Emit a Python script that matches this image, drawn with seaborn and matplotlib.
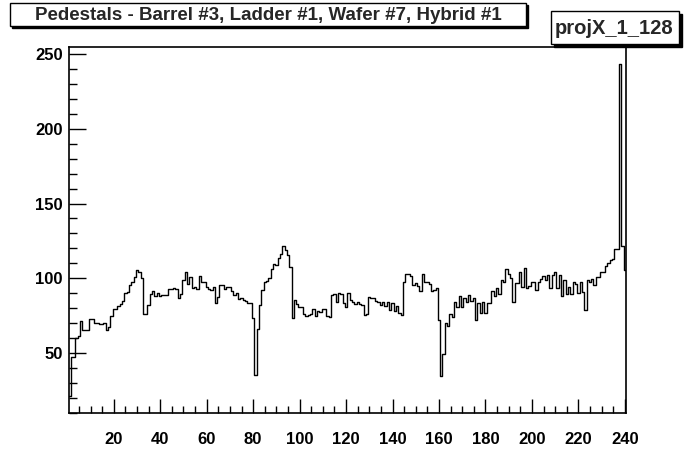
import numpy as np
import pandas as pd
import seaborn as sns
import matplotlib
matplotlib.use("Agg")
import matplotlib.pyplot as plt
from matplotlib.patches import Rectangle
from matplotlib.ticker import MultipleLocator

# ---------------- data ----------------
strip_lo = 0.5
strip_hi = 240.5
strips = list(range(1, 241))

pedestal_1_40 = [21, 47.3, 47.3, 60, 61.3, 71.3, 65.1, 65.7, 65.7, 73,
                 72.8, 70.2, 70.2, 69.5, 69.5, 70.2, 65.7, 67.3, 75, 79.5,
                 79.5, 81.7, 82.8, 84.6, 90, 90.5, 95.5, 97.3, 100.6, 105.5,
                 104.4, 100, 76, 76, 82.2, 89.5, 91.7, 88.4, 90, 88.4]
pedestal_41_80 = [88.8, 88.8, 88.8, 92.6, 92.6, 93.5, 92.6, 86.6, 89.5, 98.8,
                  104, 96.2, 100.6, 93.3, 94, 92.8, 101.3, 97.5, 97.5, 94,
                  92.8, 92.4, 94, 83.5, 87.3, 95.3, 95.3, 92.6, 94, 94,
                  91.3, 88.6, 90, 86.2, 86.6, 85.7, 85, 83.5, 83.5, 73.3]
pedestal_81_120 = [35, 65.9, 82, 92.5, 97.3, 98.4, 100.3, 106.2, 109.5, 109,
                   113.4, 116.4, 121.9, 119, 115.5, 107.3, 73.3, 85.8, 82.8, 80.8,
                   80.8, 76.2, 75, 75.2, 76.2, 79.4, 75, 77.8, 77.6, 79.6,
                   79.2, 74.6, 74, 88.8, 89.5, 84, 90, 89.5, 83.5, 80.6]
pedestal_121_160 = [89.9, 85.7, 84.4, 82.8, 84.4, 82.8, 82.1, 75.5, 76.1, 87.2,
                    86.8, 86.6, 85, 84.4, 82.1, 83.9, 81.7, 83.9, 78.8, 83.2,
                    78.4, 81.7, 76.8, 75.5, 97.7, 102.6, 103, 101.7, 95.5, 96.6,
                    94.6, 91.7, 102.6, 97.7, 97.7, 96.1, 91.2, 92.5, 93.2, 72.1]
pedestal_161_200 = [34.6, 49.4, 70, 68.4, 76, 74, 84, 80.5, 88, 80.5,
                    86.6, 84, 88.5, 85, 86.7, 72.2, 83.3, 76.6, 84.1, 76.6,
                    83.5, 83.3, 91.4, 88.3, 93.2, 89.7, 98.9, 97.8, 106.4, 102.8,
                    100.5, 84.1, 96.6, 96.6, 104.3, 94, 107.2, 93.5, 95, 97.7]
pedestal_201_240 = [97.2, 92.4, 97.2, 99.5, 101.2, 99, 102, 93.2, 102, 103.9,
                    93.2, 102.4, 88.4, 99, 89.5, 93.9, 89.5, 97.2, 96.1, 90.1,
                    97.2, 90.6, 79, 99, 97.2, 99.5, 95.5, 100.6, 100.6, 103.9,
                    104, 108, 110, 112.5, 112.8, 119.7, 119.7, 243.6, 121.4, 105.4]

pedestals = (pedestal_1_40 + pedestal_41_80 + pedestal_81_120 +
             pedestal_121_160 + pedestal_161_200 + pedestal_201_240)

x_tick_values = [20, 40, 60, 80, 100, 120, 140, 160, 180, 200, 220, 240]
y_tick_values = [50, 100, 150, 200, 250]
title_text = "Pedestals - Barrel #3, Ladder #1, Wafer #7, Hybrid #1"
hist_name = "projX_1_128"

# ---------------- figure ----------------
sns.set_style("white")
plt.rcParams['font.family'] = ['Liberation Sans', 'DejaVu Sans']

W, H = 696, 474
fig = plt.figure(figsize=(W / 100, H / 100), dpi=100)
fig.patch.set_facecolor("white")


def fx(px):
    return px / W


def fy(py):
    return 1 - py / H


L, R, T, B = 68.5, 626, 47, 413
ax = fig.add_axes([fx(L), fy(B), fx(R) - fx(L), fy(T) - fy(B)])

df = pd.DataFrame({"strip": strips, "pedestal": pedestals})
sns.histplot(data=df, x="strip", weights="pedestal", bins=240,
             binrange=(strip_lo, strip_hi), element="step", fill=False,
             color="black", linewidth=1.0, ax=ax)

ax.set_xlim(strip_lo, strip_hi)
ax.set_ylim(9.9, 254.7)
ax.set_xlabel("")
ax.set_ylabel("")
ax.set_xticks(x_tick_values)
ax.set_yticks(y_tick_values)
ax.xaxis.set_minor_locator(MultipleLocator(5))
ax.yaxis.set_minor_locator(MultipleLocator(10))
ax.tick_params(which="both", direction="in", top=False, right=False,
               bottom=True, left=True, colors="black", width=1.0)
ax.tick_params(axis="x", which="major", length=10, pad=14, labelsize=12)
ax.tick_params(axis="x", which="minor", length=5)
ax.tick_params(axis="y", which="major", length=12, pad=4, labelsize=12)
ax.tick_params(axis="y", which="minor", length=6)
for lab in ax.get_xticklabels() + ax.get_yticklabels():
    lab.set_fontweight("bold")
for sp in ax.spines.values():
    sp.set_visible(True)
    sp.set_color("black")
    sp.set_linewidth(1.2)


def box(x0, y0, x1, y1, shadow=3):
    fig.patches.append(Rectangle((fx(x0 + shadow), fy(y1 + shadow)),
                                 fx(x1) - fx(x0), fy(y0) - fy(y1),
                                 transform=fig.transFigure, facecolor="black",
                                 edgecolor="black", zorder=5))
    fig.patches.append(Rectangle((fx(x0), fy(y1)),
                                 fx(x1) - fx(x0), fy(y0) - fy(y1),
                                 transform=fig.transFigure, facecolor="white",
                                 edgecolor="black", linewidth=1.0, zorder=6))


box(10, 3, 526, 26, shadow=2)
fig.text(fx(268), fy(15), title_text, ha="center", va="center",
         fontsize=13.5, fontweight="bold", zorder=7)

box(551, 11, 679, 44, shadow=3)
fig.text(fx(614), fy(28), hist_name, ha="center", va="center",
         fontsize=14.5, fontweight="bold", zorder=7)

fig.savefig("out.png", dpi=100)
